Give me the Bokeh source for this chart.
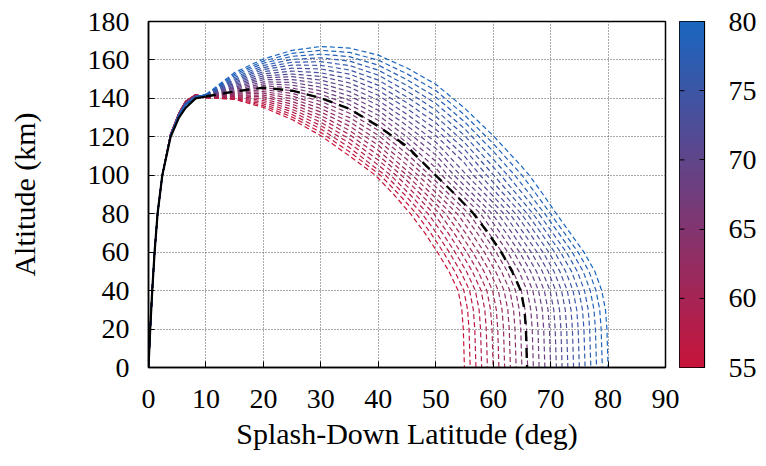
import numpy as np
from bokeh.plotting import figure
from bokeh.layouts import row
from bokeh.models import Range1d, FixedTicker, LinearColorMapper, ColumnDataSource
from bokeh.transform import linear_cmap
from bokeh.embed import file_html
from bokeh.resources import INLINE

# ---------------- data ----------------
SPLASH_LAT = [55, 56, 57, 58, 59, 60, 61, 62, 63, 64, 65, 66, 67,
              68, 69, 70, 71, 72, 73, 74, 75, 76, 77, 78, 79, 80]
X_TICKS = [0, 10, 20, 30, 40, 50, 60, 70, 80, 90]
Y_TICKS = [0, 20, 40, 60, 80, 100, 120, 140, 160, 180]
CB_TICKS = [55, 60, 65, 70, 75, 80]

# powered ascent (solid), latitudes shared by all trajectories
ASCENT_LAT = [0, 0.3, 0.65, 1.06, 1.58, 2.4, 3.85, 5.3, 6.45, 8.2, 10]
ASCENT_ALT_LOW = [0, 20, 40, 60, 80, 100]
# altitude at 3.85, 5.3, 6.45, 8.2 deg for every splash-down latitude
ASCENT_ALT_TOP = {
    55: [121.5, 132.5, 138.5, 142.0], 56: [121.5, 132.4, 138.4, 141.9],
    57: [121.4, 132.4, 138.3, 141.9], 58: [121.4, 132.3, 138.3, 141.8],
    59: [121.3, 132.3, 138.2, 141.8], 60: [121.3, 132.2, 138.1, 141.7],
    61: [121.3, 132.1, 138.0, 141.6], 62: [121.2, 132.1, 137.9, 141.6],
    63: [121.2, 132.0, 137.9, 141.5], 64: [121.1, 132.0, 137.8, 141.5],
    65: [121.1, 131.9, 137.7, 141.4], 66: [121.1, 131.8, 137.6, 141.3],
    67: [121.0, 131.8, 137.5, 141.3], 68: [121.0, 131.7, 137.5, 141.2],
    69: [120.9, 131.7, 137.4, 141.2], 70: [120.9, 131.6, 137.3, 141.1],
    71: [120.9, 131.5, 137.2, 141.0], 72: [120.8, 131.5, 137.1, 141.0],
    73: [120.8, 131.4, 137.1, 140.9], 74: [120.7, 131.4, 137.0, 140.9],
    75: [120.7, 131.3, 136.9, 140.8], 76: [120.7, 131.2, 136.8, 140.7],
    77: [120.6, 131.2, 136.7, 140.7], 78: [120.6, 131.1, 136.7, 140.6],
    79: [120.5, 131.1, 136.6, 140.6], 80: [120.5, 131.0, 136.5, 140.5],
}

# coast arc (dashed): altitude at these latitudes, while above ~100 km
ARC_LAT = [10, 15, 20, 25, 30, 35, 40, 45, 50, 55, 60, 65]
ARC_ALT = {
    55: [140.3, 139.5, 135.3, 129.0, 120.6, 110.0],
    56: [140.4, 139.7, 136.2, 130.3, 122.3, 112.2],
    57: [140.4, 140.0, 137.1, 131.6, 124.1, 114.4, 102.7],
    58: [140.5, 140.3, 138.0, 133.0, 125.8, 116.7, 105.3],
    59: [140.6, 140.6, 138.9, 134.3, 127.6, 118.9, 107.9],
    60: [140.6, 141.0, 139.8, 135.7, 129.4, 121.1, 110.4],
    61: [140.7, 141.4, 140.8, 137.0, 131.1, 123.3, 113.0],
    62: [140.8, 141.7, 141.7, 138.4, 132.9, 125.6, 115.6, 102.4],
    63: [140.8, 142.2, 142.7, 139.8, 134.7, 127.8, 118.2, 105.3],
    64: [140.9, 142.6, 143.6, 141.2, 136.5, 130.0, 120.8, 108.2],
    65: [141.0, 143.1, 144.6, 142.6, 138.4, 132.3, 123.4, 111.1],
    66: [141.0, 143.6, 145.6, 144.0, 140.2, 134.5, 126.0, 114.0],
    67: [141.1, 144.1, 146.6, 145.4, 142.1, 136.8, 128.6, 116.9, 103.9],
    68: [141.2, 144.7, 147.6, 146.9, 143.9, 139.0, 131.2, 119.9, 107.3],
    69: [141.3, 145.3, 148.6, 148.3, 145.8, 141.3, 133.8, 122.8, 110.6],
    70: [141.3, 145.9, 149.7, 149.8, 147.7, 143.5, 136.4, 125.8, 114.0],
    71: [141.4, 146.5, 150.7, 151.3, 149.5, 145.8, 139.0, 128.7, 117.3],
    72: [141.5, 147.2, 151.7, 152.7, 151.4, 148.0, 141.6, 131.7, 120.7, 106.4],
    73: [141.5, 147.9, 152.8, 154.2, 153.3, 150.3, 144.2, 134.7, 124.0, 110.0],
    74: [141.6, 148.6, 153.9, 155.7, 155.3, 152.6, 146.8, 137.7, 127.3, 113.6],
    75: [141.7, 149.4, 155.0, 157.3, 157.2, 154.8, 149.5, 140.7, 130.7, 117.1],
    76: [141.7, 150.1, 156.0, 158.8, 159.1, 157.1, 152.1, 143.7, 134.0, 120.7, 104.4],
    77: [141.8, 150.9, 157.1, 160.3, 161.1, 159.4, 154.7, 146.7, 137.4, 124.3, 108.4],
    78: [141.9, 151.8, 158.3, 161.9, 163.0, 161.7, 157.3, 149.7, 140.7, 127.9, 112.5],
    79: [141.9, 152.6, 159.4, 163.4, 165.0, 163.9, 159.9, 152.8, 144.1, 131.4, 116.5],
    80: [142.0, 153.5, 160.5, 165.0, 167.0, 166.2, 162.5, 155.8, 147.4, 135.0, 120.6, 104.5],
}

# descent (dashed): latitude at these altitudes
DESCENT_ALT = [100, 90, 80, 70, 60, 50, 40, 30, 20, 0]
DESCENT_LAT = {
    55: [39.50, 42.70, 45.60, 48.10, 50.30, 52.30, 53.90, 54.55, 54.80, 55.00],
    56: [40.37, 43.62, 46.62, 49.11, 51.32, 53.32, 54.90, 55.55, 55.80, 56.00],
    57: [41.26, 44.56, 47.63, 50.12, 52.34, 54.33, 55.90, 56.55, 56.80, 57.00],
    58: [42.16, 45.50, 48.65, 51.14, 53.36, 55.35, 56.90, 57.55, 57.80, 58.00],
    59: [43.08, 46.46, 49.66, 52.15, 54.38, 56.36, 57.90, 58.55, 58.80, 59.00],
    60: [44.02, 47.42, 50.68, 53.16, 55.40, 57.38, 58.90, 59.55, 59.80, 60.00],
    61: [44.98, 48.39, 51.70, 54.17, 56.42, 58.40, 59.90, 60.55, 60.80, 61.00],
    62: [45.95, 49.37, 52.71, 55.18, 57.44, 59.41, 60.90, 61.55, 61.80, 62.00],
    63: [46.94, 50.37, 53.73, 56.20, 58.46, 60.43, 61.90, 62.55, 62.80, 63.00],
    64: [47.94, 51.37, 54.74, 57.21, 59.48, 61.44, 62.90, 63.55, 63.80, 64.00],
    65: [48.96, 52.38, 55.76, 58.22, 60.50, 62.46, 63.90, 64.55, 64.80, 65.00],
    66: [50.00, 53.40, 56.78, 59.23, 61.52, 63.48, 64.90, 65.55, 65.80, 66.00],
    67: [51.06, 54.43, 57.79, 60.24, 62.54, 64.49, 65.90, 66.55, 66.80, 67.00],
    68: [52.13, 55.47, 58.81, 61.26, 63.56, 65.51, 66.90, 67.55, 67.80, 68.00],
    69: [53.22, 56.52, 59.82, 62.27, 64.58, 66.52, 67.90, 68.55, 68.80, 69.00],
    70: [54.32, 57.58, 60.84, 63.28, 65.60, 67.54, 68.90, 69.55, 69.80, 70.00],
    71: [55.44, 58.65, 61.86, 64.29, 66.62, 68.56, 69.90, 70.55, 70.80, 71.00],
    72: [56.58, 59.72, 62.87, 65.30, 67.64, 69.57, 70.90, 71.55, 71.80, 72.00],
    73: [57.74, 60.81, 63.89, 66.32, 68.66, 70.59, 71.90, 72.55, 72.80, 73.00],
    74: [58.91, 61.91, 64.90, 67.33, 69.68, 71.60, 72.90, 73.55, 73.80, 74.00],
    75: [60.10, 63.02, 65.92, 68.34, 70.70, 72.62, 73.90, 74.55, 74.80, 75.00],
    76: [61.31, 64.14, 66.94, 69.35, 71.72, 73.64, 74.90, 75.55, 75.80, 76.00],
    77: [62.53, 65.26, 67.95, 70.36, 72.74, 74.65, 75.90, 76.55, 76.80, 77.00],
    78: [63.77, 66.40, 68.97, 71.38, 73.76, 75.67, 76.90, 77.55, 77.80, 78.00],
    79: [65.03, 67.54, 69.98, 72.39, 74.78, 76.68, 77.90, 78.55, 78.80, 79.00],
    80: [66.30, 68.70, 71.00, 73.40, 75.80, 77.70, 78.90, 79.55, 79.80, 80.00],
}

# nominal trajectory (black)
NOMINAL_ASCENT_ALT = [0, 20, 40, 60, 80, 100, 120, 130, 135, 140, 141]
NOMINAL_ARC_ALT = [141.0, 143.6, 145.6, 144.0, 140.2, 134.5, 125.5, 115.0]
NOMINAL_DESCENT_LAT = [50.0, 53.4, 56.6, 59.1, 61.4, 63.3, 64.8, 65.45, 65.7, 65.9]

# ---------------- styling ----------------
FONT = "Liberation Serif"
RED = (200, 20, 58)
BLUE = (26, 102, 192)
palette = []
for i in range(256):
    t = i / 255
    r, g, b = (round(RED[k] + (BLUE[k] - RED[k]) * t) for k in range(3))
    palette.append("#%02x%02x%02x" % (r, g, b))
mapper = LinearColorMapper(palette=palette, low=55, high=80)

solid_xs, solid_ys, dash_xs, dash_ys = [], [], [], []
for e in SPLASH_LAT:
    arc = ARC_ALT[e]
    solid_xs.append(ASCENT_LAT)
    solid_ys.append(ASCENT_ALT_LOW + ASCENT_ALT_TOP[e] + [arc[0]])
    dash_xs.append(ARC_LAT[:len(arc)] + DESCENT_LAT[e])
    dash_ys.append(arc + DESCENT_ALT)

solid_src = ColumnDataSource(dict(xs=solid_xs, ys=solid_ys, e=SPLASH_LAT))
dash_src = ColumnDataSource(dict(xs=dash_xs, ys=dash_ys, e=SPLASH_LAT))
cmap = linear_cmap("e", palette, 55, 80)

p = figure(width=679, height=466, x_range=Range1d(0, 90), y_range=Range1d(0, 180),
           output_backend="svg", toolbar_location=None,
           min_border_left=148, min_border_right=14, min_border_top=21, min_border_bottom=99,
           x_axis_label="Splash-Down Latitude (deg)", y_axis_label="Altitude (km)")
p.background_fill_color = "white"
p.border_fill_color = "white"
p.outline_line_color = "black"
p.outline_line_width = 1.5

p.xaxis.ticker = FixedTicker(ticks=X_TICKS)
p.yaxis.ticker = FixedTicker(ticks=Y_TICKS)
for ax in (p.xaxis[0], p.yaxis[0]):
    ax.major_label_text_font = FONT
    ax.major_label_text_font_size = "28px"
    ax.major_label_text_color = "black"
    ax.axis_label_text_font = FONT
    ax.axis_label_text_font_size = "30px"
    ax.axis_label_text_font_style = "normal"
    ax.axis_label_text_color = "black"
    ax.major_tick_in = 6
    ax.major_tick_out = 0
    ax.minor_tick_line_color = None
    ax.axis_line_color = "black"
    ax.axis_line_width = 1.5
    ax.major_tick_line_color = "black"
p.xaxis.major_label_standoff = 22
p.xaxis.axis_label_standoff = 6
p.yaxis.major_label_standoff = 19
p.yaxis.axis_label_standoff = 44

p.grid.grid_line_color = "#555555"
p.grid.grid_line_dash = "1 2"
p.grid.grid_line_width = 1

p.multi_line(xs="xs", ys="ys", source=dash_src, line_color=cmap, line_width=1.2,
             line_dash="5 3")
p.multi_line(xs="xs", ys="ys", source=solid_src, line_color=cmap, line_width=1.3)

p.line(ASCENT_LAT, NOMINAL_ASCENT_ALT, line_color="black", line_width=2.2)
p.line(ARC_LAT[:len(NOMINAL_ARC_ALT)] + NOMINAL_DESCENT_LAT,
       NOMINAL_ARC_ALT + DESCENT_ALT, line_color="black", line_width=2.4,
       line_dash="10 7")

# ---------------- colour bar ----------------
p2 = figure(width=87, height=466, x_range=Range1d(0, 1), y_range=Range1d(55, 80),
            output_backend="svg", toolbar_location=None,
            min_border_left=0, min_border_right=62, min_border_top=21, min_border_bottom=99,
            x_axis_location=None, y_axis_location="right")
p2.grid.visible = False
p2.outline_line_color = "black"
p2.outline_line_width = 1.2
p2.image(image=[np.linspace(55, 80, 256).reshape(256, 1)], x=0, y=55, dw=1, dh=25,
         color_mapper=mapper)
p2.segment(x0=0, y0=CB_TICKS[1:-1], x1=0.2, y1=CB_TICKS[1:-1], line_color="black",
           line_width=1)
ay = p2.yaxis[0]
ay.ticker = FixedTicker(ticks=CB_TICKS)
ay.major_label_text_font = FONT
ay.major_label_text_font_size = "28px"
ay.major_label_text_color = "black"
ay.major_tick_in = 5
ay.major_tick_out = 0
ay.minor_tick_line_color = None
ay.axis_line_color = "black"
ay.major_label_standoff = 24

layout = row(p, p2)
open("out.html", "w").write(file_html(layout, INLINE))
